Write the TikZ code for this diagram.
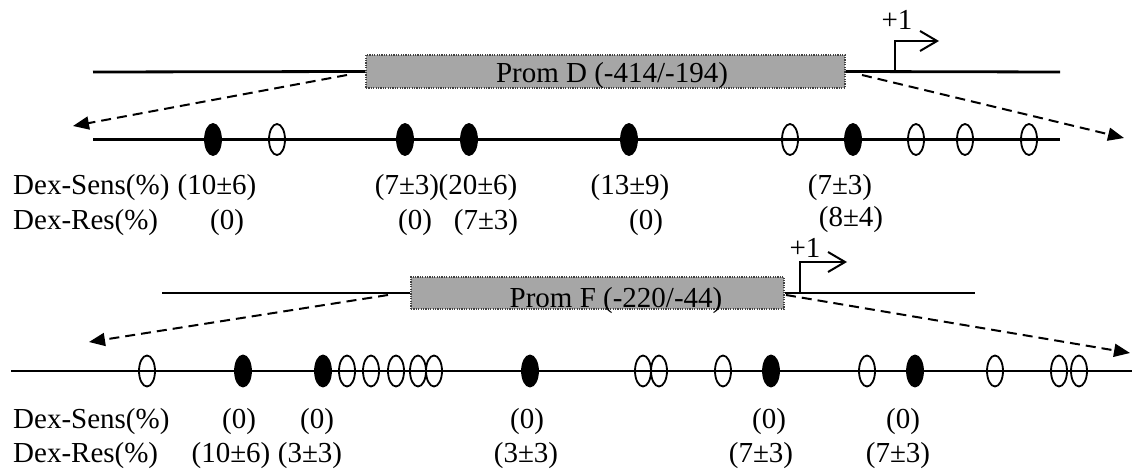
\documentclass[tikz,border=0pt]{standalone}
\usepackage{fontspec}
\setmainfont{Liberation Serif}
\usetikzlibrary{arrows.meta,shapes.geometric}
\definecolor{promgray}{RGB}{166,166,166}
\begin{document}
\begin{tikzpicture}[x=1pt,y=-1pt,
  font=\fontsize{29}{34}\selectfont,
  dna/.style={line width=2.8pt},
  zoomarrow/.style={line width=2pt, dash pattern=on 10pt off 6pt,
    -{Triangle[length=16pt,width=13pt]}},
  prombox/.style={draw=black!75, fill=promgray, dash pattern=on 1.2pt off 1.2pt,
    line width=1.3pt, inner sep=0pt},
  tss/.style={line width=2.5pt, -{Straight Barb[length=17pt,width=20pt,line width=2pt]}},
  txt/.style={inner sep=0pt, anchor=base},
  txtw/.style={inner sep=0pt, anchor=base west},
  siteon/.style={ellipse, draw=black, fill=black, line width=1.8pt,
    minimum width=16pt, minimum height=31pt, inner sep=0pt},
  siteoff/.style={ellipse, draw=black, line width=1.8pt,
    minimum width=16pt, minimum height=31pt, inner sep=0pt}]
\useasboundingbox (0,0) rectangle (1132,470);

% ---------------- Promoter D ----------------
\node[prombox, minimum width=479pt, minimum height=33pt] (boxD) at (605.5,71.5) {};
\node[txt] (labD) at (612,83) {Prom D (-414/-194)};
\coordinate (dStart) at (93,72);
\coordinate (dEnd) at (1060,72);
\draw[dna] (dStart) -- (boxD.west);
\draw[dna] (boxD.east) -- (dEnd);
\coordinate (tssD) at (895,72);
\coordinate (tssDtip) at (939,41);
\draw[tss] (tssD) |- (tssDtip);
\node[txt] (plusD) at (897,30) {+1};
\coordinate (zDl0) at (347,75);
\coordinate (zDl1) at (73,126);
\draw[zoomarrow] (zDl0) -- (zDl1);
\coordinate (zDr0) at (862,75);
\coordinate (zDr1) at (1124,138);
\draw[zoomarrow] (zDr0) -- (zDr1);
\coordinate (lD0) at (93,139.5);
\coordinate (lD1) at (1060,139.5);
\draw[dna] (lD0) -- (lD1);
\foreach \x [count=\i] in {213,405,469,629,853}
  \node[siteon] (dOn\i) at (\x,139.5) {};
\foreach \x [count=\i] in {277,790,916,965,1029}
  \node[siteoff] (dOff\i) at (\x,139.5) {};

\node[txtw] (dSensLab) at (13,195) {Dex-Sens(\%)};
\node[txtw] (dResLab) at (13,230) {Dex-Res(\%)};
\foreach \x/\t [count=\i] in {217/{(10±6)},407/{(7±3)},478/{(20±6)},630/{(13±9)},840/{(7±3)}}
  \node[txt] (dSens\i) at (\x,195) {\t};
\foreach \x/\t [count=\i] in {227/{(0)},415/{(0)},486/{(7±3)},646/{(0)}}
  \node[txt] (dRes\i) at (\x,230) {\t};
\node[txt] (dRes5) at (851,227) {(8±4)};

% ---------------- Promoter F ----------------
\node[prombox, minimum width=373pt, minimum height=32pt] (boxF) at (597.5,293) {};
\node[txt] (labF) at (616,307) {Prom F (-220/-44)};
\coordinate (fStart) at (162,293);
\coordinate (fEnd) at (975,293);
\draw[dna] (fStart) -- (boxF.west);
\draw[dna] (boxF.east) -- (fEnd);
\coordinate (tssF) at (800,293);
\coordinate (tssFtip) at (847,262);
\draw[tss] (tssF) |- (tssFtip);
\node[txt] (plusF) at (805,258) {+1};
\coordinate (zFl0) at (388,295);
\coordinate (zFl1) at (89,342);
\draw[zoomarrow] (zFl0) -- (zFl1);
\coordinate (zFr0) at (786,295);
\coordinate (zFr1) at (1130,353);
\draw[zoomarrow] (zFr0) -- (zFr1);
\coordinate (lF0) at (11,371);
\coordinate (lF1) at (1132,371);
\draw[dna] (lF0) -- (lF1);
\foreach \x [count=\i] in {243,323,530,771,915}
  \node[siteon] (fOn\i) at (\x,371) {};
\foreach \x [count=\i] in {147,347,371,396,418,434,643,659,723,867,995,1059,1079}
  \node[siteoff] (fOff\i) at (\x,371) {};

\node[txtw] (fSensLab) at (13,428) {Dex-Sens(\%)};
\node[txtw] (fResLab) at (13,462) {Dex-Res(\%)};
\foreach \x [count=\i] in {239,317,527,769,903}
  \node[txt] (fSens\i) at (\x,428) {(0)};
\foreach \x/\t [count=\i] in {231/{(10±6)},310/{(3±3)},526/{(3±3)},761/{(7±3)},898/{(7±3)}}
  \node[txt] (fRes\i) at (\x,462) {\t};
\end{tikzpicture}
\end{document}
